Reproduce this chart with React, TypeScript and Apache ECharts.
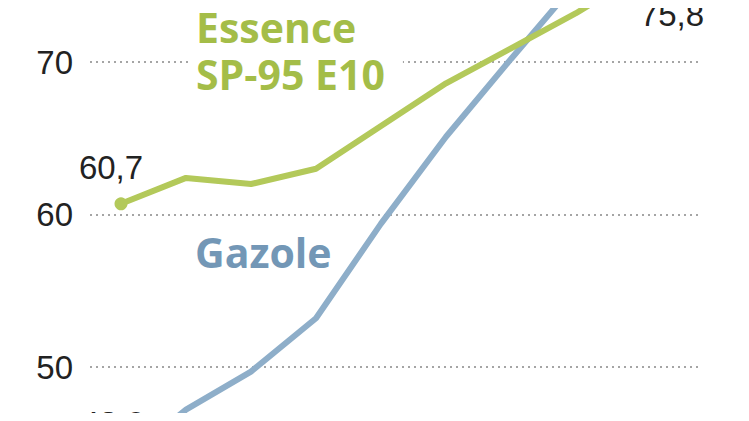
import React, { useEffect, useRef } from "react";
import * as echarts from "echarts";

const steps = [0, 1, 2, 3, 4, 5, 6, 7, 8];
const essence = [60.7, 62.4, 62.0, 63.0, 65.8, 68.6, 70.9, 73.2, 75.8];
const gazole = [43.8, 47.2, 49.7, 53.2, 59.4, 65.1, 70.2, 75.2, 79.8];
const yTicks = [40, 50, 60, 70, 80];

const GREEN = "#b3c95a";
const GREEN_TEXT = "#a4bd48";
const BLUE = "#8eaec9";
const BLUE_TEXT = "#7397b6";
const FONT = "Liberation Sans";

export default function App() {
  const ref = useRef<HTMLDivElement>(null);
  useEffect(() => {
    if (!ref.current) return;
    const chart = echarts.init(ref.current, undefined, { renderer: "svg" });
    const fmt = (v: number) => v.toFixed(1).replace(".", ",");
    const last = steps.length - 1;
    const labelStyle = {
      show: true,
      color: "#222",
      fontFamily: FONT,
      fontSize: 33,
      position: "inside",
    };
    chart.setOption({
      animation: false,
      backgroundColor: "#ffffff",
      grid: {
        left: 90,
        right: 49,
        top: -90.5,
        height: 610,
        containLabel: false,
        outerBoundsMode: "none",
      },
      xAxis: {
        type: "value",
        min: -31 / 65,
        max: 579 / 65,
        show: false,
      },
      yAxis: {
        type: "value",
        min: yTicks[0],
        max: yTicks[yTicks.length - 1],
        interval: 10,
        axisLine: { show: false },
        axisTick: { show: false },
        axisLabel: {
          color: "#222",
          fontFamily: FONT,
          fontSize: 33,
          margin: 17,
          verticalAlign: "middle",
          padding: [0, 0, 22, 0],
          showMinLabel: false,
          showMaxLabel: false,
        },
        splitLine: {
          lineStyle: { color: "#888", type: [2, 4], width: 1.5 },
        },
      },
      series: [
        {
          type: "line",
          data: steps.map((s, i) => [s, gazole[i]]),
          lineStyle: { color: BLUE, width: 6 },
          itemStyle: { color: BLUE },
          symbol: "circle",
          symbolSize: 0,
          showSymbol: true,
          z: 2,
          clip: false,
          label: {
            ...labelStyle,
            formatter: (p: any) => (p.dataIndex === 0 ? fmt(p.value[1]) : ""),
          },
          labelLayout: { dx: -8, dy: -38 },
        },
        {
          type: "line",
          data: steps.map((s, i) => [s, essence[i]]),
          lineStyle: { color: GREEN, width: 6 },
          itemStyle: { color: GREEN },
          symbol: "circle",
          symbolSize: (v: any, p: any) => (p.dataIndex === 0 ? 13 : 0),
          showSymbol: true,
          z: 3,
          clip: false,
          label: {
            ...labelStyle,
            formatter: (p: any) =>
              p.dataIndex === 0 || p.dataIndex === last ? fmt(p.value[1]) : "",
          },
          labelLayout: (p: any) =>
            p.dataIndex === 0 ? { dx: -10, dy: -36 } : { dx: 31, dy: 41 },
        },
      ],
      graphic: [
        {
          type: "text",
          left: 190,
          top: 3,
          z: 1,
          style: {
            text: "Essence\nSP-95 E10",
            fill: GREEN_TEXT,
            font: `bold 41px "Open Sans"`,
            lineHeight: 47,
            backgroundColor: "#ffffff",
            padding: [0, 18, 0, 6],
          },
        },
        {
          type: "text",
          left: 195,
          top: 231,
          style: {
            text: "Gazole",
            fill: BLUE_TEXT,
            font: `bold 41px "Open Sans"`,
          },
        },
      ],
    });
    return () => chart.dispose();
  }, []);
  return <div ref={ref} style={{ width: 749, height: 421, margin: -8 }} />;
}
